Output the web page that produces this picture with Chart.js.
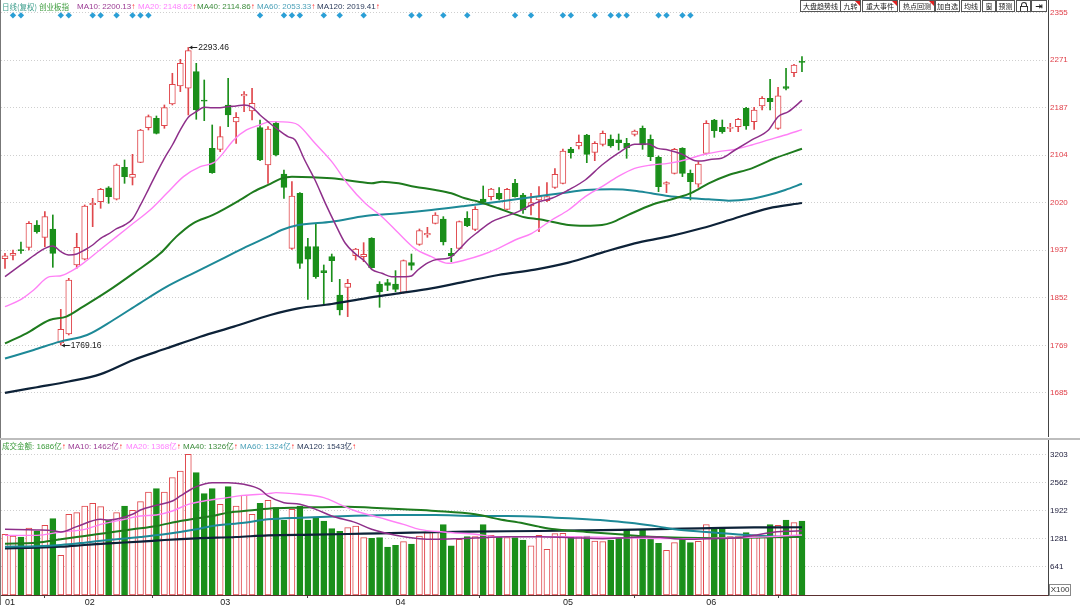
<!DOCTYPE html>
<html>
<head>
<meta charset="utf-8">
<script src="https://cdn.jsdelivr.net/npm/chart.js@4.4.1/dist/chart.umd.min.js"></script>
<style>
  body { margin: 0; background: #fff; }
  #wrap { position: relative; width: 1080px; height: 605px; overflow: hidden; background: #fff;
          font-family: "Liberation Sans", Arial, sans-serif; }
  #priceBox { position: absolute; left: 0; top: 0; width: 1080px; height: 437px; }
  #volBox { position: absolute; left: 0; top: 440px; width: 1080px; height: 165px; }
  .hd { position: absolute; white-space: nowrap; font-size: 8px; line-height: 10px; }
  .cn { font-family: "Noto Sans CJK SC", sans-serif; font-size: 7.5px; }
  .ar { color: #ff2a2a; }
  .btn { position: absolute; top: 0; height: 12px; border: 1px solid #555; box-sizing: border-box;
         font-family: "Noto Sans CJK SC", sans-serif; font-size: 7px; line-height: 10px; text-align: center;
         background: #fff; color: #222; overflow: hidden; white-space: nowrap; }
  .tri { position: absolute; right: 0; top: 0; width: 0; height: 0;
         border-top: 5px solid #e02020; border-left: 5px solid transparent; }
</style>
</head>
<body>
<div id="wrap">
  <div id="priceBox"><canvas id="price"></canvas></div>
  <div id="volBox"><canvas id="vol"></canvas></div>

  <div style="position:absolute;left:0;top:0;width:1px;height:605px;background:#777"></div>
  <div style="position:absolute;left:0;top:438px;width:1080px;height:2px;background:#bdbdbd"></div>

  <!-- price header -->
  <div class="hd cn" style="left:2px;top:2px;color:#3d9e8c">日线(复权)</div>
  <div class="hd cn" style="left:39px;top:2px;color:#3c9c3c">创业板指</div>
  <div class="hd" style="left:77px;top:2px;color:#9b3b94">MA10: 2200.13<span class="ar">↑</span></div>
  <div class="hd" style="left:138px;top:2px;color:#ff80ff">MA20: 2148.62<span class="ar">↑</span></div>
  <div class="hd" style="left:197px;top:2px;color:#3c8c3c">MA40: 2114.86<span class="ar">↑</span></div>
  <div class="hd" style="left:257px;top:2px;color:#4aa0b8">MA60: 2053.33<span class="ar">↑</span></div>
  <div class="hd" style="left:317px;top:2px;color:#2c3c5c">MA120: 2019.41<span class="ar">↑</span></div>

  <!-- volume header -->
  <div class="hd" style="left:2px;top:441px;color:#3c9c3c"><span class="cn">成交金额</span>: 1686<span class="cn">亿</span><span class="ar">↑</span></div>
  <div class="hd" style="left:68px;top:441px;color:#9b3b94">MA10: 1462<span class="cn">亿</span><span class="ar">↑</span></div>
  <div class="hd" style="left:126px;top:441px;color:#ff80ff">MA20: 1368<span class="cn">亿</span><span class="ar">↑</span></div>
  <div class="hd" style="left:183px;top:441px;color:#3c8c3c">MA40: 1326<span class="cn">亿</span><span class="ar">↑</span></div>
  <div class="hd" style="left:240px;top:441px;color:#4aa0b8">MA60: 1324<span class="cn">亿</span><span class="ar">↑</span></div>
  <div class="hd" style="left:297px;top:441px;color:#2c3c5c">MA120: 1543<span class="cn">亿</span><span class="ar">↑</span></div>

  <!-- toolbar -->
  <div class="btn" style="left:800px;width:41px">大盘趋势线</div>
  <div class="btn" style="left:840px;width:21px">九转<div class="tri"></div></div>
  <div class="btn" style="left:862px;width:36px">重大事件<div class="tri"></div></div>
  <div class="btn" style="left:899px;width:36px">热点回测<div class="tri"></div></div>
  <div class="btn" style="left:935px;width:25px">加自选</div>
  <div class="btn" style="left:961px;width:20px">均线</div>
  <div class="btn" style="left:982px;width:14px">窗</div>
  <div class="btn" style="left:996px;width:19px">预测</div>
  <div class="btn" style="left:1016px;width:15px">
    <div style="position:absolute;left:4px;top:1px;width:4px;height:3px;border:1px solid #333;border-bottom:none;border-radius:3px 3px 0 0"></div>
    <div style="position:absolute;left:3px;top:5px;width:6px;height:4px;border:1px solid #333"></div>
  </div>
  <div class="btn" style="left:1031px;width:16px;font-family:'DejaVu Sans';font-weight:bold;font-size:9px">⇥</div>

  <div style="position:absolute;left:1049px;top:584px;width:22px;height:12px;border:1px solid #888;box-sizing:border-box;font-size:8px;line-height:10px;text-align:center;color:#333">X100</div>
</div>

<script>
// candles, one per trading day
const opens = [1921.4,1927.3,1936.7,1941.4,1980.7,1959.0,1973.7,1773.0,1788.8,1910.3,
  1920.3,2016.6,2021.8,2046.0,2026.0,2082.3,2064.7,2091.1,2152.2,2168.6,
  2155.7,2193.9,2225.6,2221.5,2250.8,2200.9,2115.8,2114.0,2192.1,2162.2,
  2208.0,2181.5,2152.2,2086.4,2159.8,2070.5,1939.6,2036.5,1942.6,1942.6,
  1900.3,1925.0,1857.4,1870.9,1926.7,1924.9,1957.2,1876.8,1879.1,1876.8,
  1862.1,1914.4,1946.7,1963.1,1983.7,1991.3,1930.8,1939.6,1992.5,1973.1,
  2026.5,2030.6,2036.5,2008.3,2054.1,2033.5,2014.2,2024.7,2023.6,2047.1,
  2054.1,2114.6,2119.9,2139.3,2108.7,2122.8,2132.2,2130.5,2124.6,2140.4,
  2150.9,2131.6,2099.9,2052.4,2071.7,2115.7,2071.7,2052.4,2106.9,2165.7,
  2152.8,2151.0,2153.9,2186.2,2162.7,2190.3,2203.8,2151.0,2224.4,2249.0,
  2268.4];
const highs = [1930.8,1936.7,1950.8,1986.6,1988.4,2004.2,1998.4,1832.2,1886.8,1966.1,
  2016.0,2027.7,2045.3,2048.3,2088.2,2095.2,2105.2,2149.2,2174.5,2172.7,
  2192.1,2247.9,2272.5,2293.46,2265.5,2236.1,2156.9,2154.0,2239.1,2178.6,
  2215.6,2221.5,2165.7,2154.0,2162.7,2077.6,2057.0,2037.7,1957.2,1983.7,
  1910.3,1929.6,1885.0,1885.0,1939.6,1949.6,1958.4,1880.9,1885.0,1900.3,
  1919.1,1929.6,1973.7,1976.6,2002.4,1995.4,1939.6,1987.8,2004.2,2013.0,
  2049.4,2045.3,2046.5,2045.3,2061.1,2036.5,2036.5,2048.2,2055.3,2080.0,
  2114.6,2117.5,2139.3,2140.4,2127.5,2146.3,2139.3,2141.0,2133.4,2148.0,
  2155.1,2139.3,2102.3,2057.0,2115.7,2116.9,2077.6,2092.3,2164.5,2166.8,
  2165.7,2159.8,2168.6,2188.0,2188.0,2206.8,2237.3,2223.2,2256.7,2263.7,
  2277.2];
const lows = [1904.4,1919.1,1930.8,1936.7,1966.1,1942.6,1906.2,1769.16,1787.0,1904.4,
  1919.1,1977.8,2010.1,2018.9,2024.8,2054.1,2051.2,2090.5,2148.1,2141.0,
  2151.0,2192.1,2215.6,2174.5,2166.9,2164.5,2071.7,2109.9,2154.0,2124.6,
  2180.4,2165.7,2094.0,2054.1,2102.2,2027.7,1937.8,1904.4,1849.8,1886.8,
  1839.8,1880.9,1822.2,1819.3,1919.1,1916.1,1904.4,1835.7,1865.1,1863.3,
  1860.4,1901.5,1944.9,1959.0,1982.5,1945.5,1916.1,1938.4,1977.8,1970.7,
  2018.9,2024.8,2024.8,2007.1,2029.5,2001.3,1998.3,1969.0,2021.8,2045.3,
  2052.9,2098.2,2114.6,2090.5,2094.0,2119.9,2117.5,2112.8,2098.2,2137.5,
  2114.0,2094.0,2039.4,2037.7,2070.5,2065.9,2024.8,2047.1,2105.8,2135.1,
  2142.2,2145.1,2145.1,2149.2,2149.2,2183.3,2183.3,2149.2,2218.5,2242.0,
  2250.8];
const closes = [1926.2,1930.8,1935.5,1983.7,1969.0,1995.4,1930.8,1797.0,1883.9,1941.4,
  2014.2,2018.9,2043.6,2030.6,2086.4,2065.9,2070.0,2148.1,2171.5,2142.2,
  2187.4,2228.5,2265.5,2287.8,2183.3,2198.6,2072.9,2136.3,2174.5,2170.4,
  2210.9,2195.0,2095.2,2149.8,2104.0,2047.1,2031.8,1913.2,1920.3,1889.7,
  1896.8,1917.9,1831.0,1878.0,1938.4,1929.0,1905.6,1862.7,1874.4,1867.4,
  1917.9,1909.7,1970.7,1966.0,1998.3,1950.8,1926.1,1986.6,1979.5,2008.3,
  2020.6,2044.1,2026.5,2043.5,2030.6,2007.1,2020.0,2030.6,2030.6,2070.0,
  2111.0,2108.1,2126.3,2105.2,2124.6,2142.2,2119.9,2125.7,2117.0,2146.3,
  2121.6,2101.1,2048.2,2055.3,2114.0,2071.7,2057.0,2088.2,2159.8,2146.9,
  2145.1,2152.8,2166.8,2155.1,2183.3,2203.8,2198.0,2208.0,2221.4,2262.5,
  2267.2];
// turnover, 亿
const volumes = [1382,1344,1321,1526,1458,1587,1739,904,1838,1876,
  2027,2088,2012,1701,1876,2027,1929,2126,2346,2422,
  2346,2672,2824,3204,2786,2308,2422,2065,2468,2027,
  2278,1838,2088,2156,1989,1701,1951,2027,1708,1777,
  1686,1511,1450,1534,1572,1306,1291,1306,1094,1132,
  1215,1162,1344,1420,1435,1602,1117,1268,1329,1329,
  1602,1359,1329,1306,1306,1253,1117,1359,1041,1397,
  1405,1329,1329,1344,1230,1215,1253,1306,1496,1359,
  1496,1306,1177,1018,1192,1283,1192,1223,1602,1526,
  1534,1329,1329,1420,1329,1329,1602,1587,1708,1648,
  1686];

// moving averages: [day, value]
const ma10 = [[0,1889.8],[2,1910.3],[4,1930.8],[5,1939.6],[6,1943.7],[7,1933.8],[8,1928.0],[9,1929.7],[10,1936.7],
  [11,1945.5],[12,1957.3],[13,1964.9],[14,1974.3],[15,1980.7],[16,1991.3],[17,2016.0],[18,2043.6],[19,2071.7],
  [20,2098.2],[21,2121.6],[22,2148.1],[23,2170.4],[24,2180.4],[25,2188.0],[26,2187.4],[27,2187.4],[28,2189.2],
  [29,2190.3],[30,2192.1],[31,2188.0],[32,2174.5],[33,2162.7],[34.3,2148.0],[35.5,2136.3],[36.4,2130.4],
  [37.6,2095.2],[38.9,2060.0],[40.2,2018.9],[41.4,1983.7],[42.7,1948.5],[43.9,1930.8],[45.2,1916.1],[46,1902.6],
  [47.3,1895.6],[48.5,1889.7],[50.2,1889.7],[51,1890.9],[51.8,1901.5],[53.1,1914.4],[54.3,1920.3],[55.6,1922.0],
  [56.9,1936.7],[58.1,1954.3],[59.4,1969.0],[61.1,1986.6],[62.7,1995.4],[64.4,2004.2],[66,2015.9],[67,2021.8],
  [68.6,2027.7],[70.7,2042.4],[72.8,2060.0],[74.9,2086.4],[76.9,2106.9],[79,2122.8],[80.7,2123.4],[81.9,2115.7],
  [83.2,2112.8],[84.9,2105.8],[86.6,2094.0],[87.4,2093.5],[88.7,2096.4],[89.9,2098.2],[91.6,2112.8],[93.7,2130.5],
  [95.8,2148.1],[97,2171.5],[98.3,2180.4],[100,2200.1]];
const ma20 = [[0,1836.9],[1.9,1848.7],[3.6,1866.3],[5.6,1889.8],[6.9,1891.0],[8.2,1898.6],[9.8,1913.2],[11.9,1936.7],
  [14,1960.2],[16.1,1983.7],[18.2,2007.2],[20.3,2036.5],[22.4,2065.9],[24.5,2083.5],[26.2,2090.5],[27,2101.1],
  [28.7,2130.5],[30.3,2148.1],[32,2156.9],[33.3,2162.7],[36,2161.0],[36.8,2156.9],[38.9,2124.6],[41,2092.3],
  [43.1,2051.2],[45.2,2018.9],[47.3,1995.4],[49.4,1966.1],[51.4,1939.6],[53.5,1924.9],[55.6,1913.2],[57.7,1919.1],
  [59.8,1927.9],[61.9,1939.6],[64,1954.3],[66.1,1966.1],[68.6,1989.5],[70.7,2007.1],[72.8,2030.6],[74.9,2048.2],
  [76.9,2065.9],[79,2080.5],[81.1,2086.4],[83.2,2089.3],[85.3,2095.2],[87.4,2104.0],[89.5,2110.0],[91.6,2114.0],
  [93.7,2121.6],[95.8,2130.5],[97.9,2139.2],[100,2148.6]];
const ma40 = [[0,1772.3],[2.7,1790.0],[5.6,1813.4],[7.7,1819.3],[9.8,1836.9],[12.8,1863.3],[16.1,1895.6],[19.5,1930.8],
  [21.5,1960.2],[23.6,1983.7],[26.1,1998.4],[29.5,2024.8],[31.2,2039.5],[33.3,2053.0],[34.7,2062.9],[36,2065.9],
  [41,2062.9],[44.3,2057.0],[46,2054.1],[47.3,2057.0],[49.4,2054.1],[51.4,2048.2],[54,2042.4],[56,2036.5],
  [57.7,2027.7],[59.4,2021.8],[61.9,2010.1],[63.6,2001.3],[65.2,1994.2],[67,1990.7],[68.6,1986.6],[70.7,1980.7],
  [72.8,1979.5],[74.9,1980.7],[76.1,1984.8],[78.2,1998.4],[81.1,2016.0],[84.1,2027.7],[86.2,2037.7],[88.3,2054.1],
  [90.8,2068.8],[93.7,2080.5],[96.6,2098.2],[100,2114.9]];
const ma60 = [[0,1745.5],[3.6,1760.6],[6.9,1775.3],[10.3,1787.0],[13.6,1813.4],[16.9,1842.8],[20.3,1872.1],[23.6,1895.6],
  [27,1919.1],[30.3,1942.6],[33.3,1962.0],[34.7,1971.9],[36.8,1980.7],[41,1986.6],[45.2,1996.6],[49.4,2001.3],
  [53.5,2007.1],[57.7,2014.2],[61.9,2021.8],[66.5,2030.6],[69.8,2036.5],[72.8,2042.4],[76.1,2043.5],[79,2041.2],
  [81.1,2036.5],[83.2,2031.8],[85.3,2028.8],[88.3,2025.9],[90.8,2023.6],[93.3,2025.9],[95.8,2033.5],[97.9,2042.4],
  [100,2053.3]];
const ma120 = [[0,1685],[4,1695],[8,1705],[12,1718],[16.1,1743],[20.3,1763.5],[24.5,1784],[28.7,1801.7],[33.3,1822.2],
  [36.8,1833.9],[41,1841.6],[45.2,1851.6],[49.4,1860.4],[53.5,1869.2],[57.7,1880.9],[61.9,1892.7],[66.5,1902],
  [70.7,1914.4],[74.9,1932.0],[79,1948.4],[83.2,1960.2],[87.4,1974.9],[91.6,1992.5],[95.8,2010.1],[100,2019.4]];

const vma10 = [[0,1496],[4,1481],[6,1466],[7,1435],[9,1557],[12,1724],[13,1708],[16,1838],[17,1936],[19,2043],
  [21,2141],[22,2255],[23,2369],[24,2468],[26,2559],[28,2559],[30,2521],[32,2407],[33,2255],[35,2103],[37,2065],
  [39,1951],[41,1800],[44,1648],[46,1496],[49,1359],[52,1283],[54,1268],[57,1283],[60,1306],[63,1329],[67,1329],
  [71,1306],[75,1283],[78,1306],[81,1329],[84,1283],[86,1268],[88,1283],[92,1306],[94,1359],[96,1420],[98,1450],
  [100,1462]];
const vma20 = [[0,1359],[4,1359],[7,1435],[10,1496],[12,1610],[15,1724],[17,1799],[19,1822],[21,1913],[23,2065],
  [25,2141],[27,2194],[30,2270],[33,2308],[34,2331],[37,2293],[40,2217],[42,2065],[44,1913],[47,1762],[50,1610],
  [52,1496],[55,1435],[59,1382],[62,1329],[67,1329],[71,1329],[77,1306],[83,1283],[87,1283],[92,1306],[96,1329],
  [100,1368]];
const vma40 = [[0,1170],[4,1190],[7,1268],[10,1344],[13,1420],[16,1496],[19,1572],[22,1686],[26,1800],[28,1876],
  [31,1929],[33,1966],[37,1989],[43,2012],[46,1989],[50,1951],[54,1913],[59,1838],[62,1724],[65,1633],[67,1557],
  [69,1496],[73,1435],[77,1382],[81,1329],[85,1306],[90,1300],[93,1305],[96,1315],[100,1326]];
const vma60 = [[0,1101],[4,1110],[7,1139],[10,1192],[13,1253],[17,1321],[20,1382],[24,1496],[26,1572],[30,1648],
  [33,1724],[37,1762],[43,1800],[49,1822],[54,1822],[59,1800],[63,1800],[67,1784],[69,1762],[73,1724],[76,1686],
  [79,1633],[82,1557],[84,1496],[88,1435],[92,1380],[96,1340],[100,1324]];
const vma120 = [[0,1063],[4,1078],[7,1101],[10,1139],[13,1177],[17,1215],[20,1253],[24,1291],[29,1321],[33,1359],
  [39,1374],[45,1397],[51,1420],[58,1443],[67,1458],[73,1473],[79,1490],[85,1510],[90,1530],[94,1540],[100,1543]];

// days with a signal diamond on top
const signalDays = [1,2,7,8,11,12,14,16,17,18,32,35,36,37,40,42,45,51,52,55,58,64,66,70,71,74,76,77,78,82,83,85,86];
const signalLevel = 2350;

const monthStart = [0, 10, 27, 49, 70, 88];
const monthLabels = ['01', '02', '03', '04', '05', '06'];
const priceTicks = [1685, 1768.75, 1852.5, 1936.25, 2020, 2103.75, 2187.5, 2271.25, 2355];
const priceTickLabels = ['1685', '1769', '1852', '1937', '2020', '2104', '2187', '2271', '2355'];
const volTicks = [641, 1281, 1922, 2562, 3203];
const volTickLabels = ['641', '1281', '1922', '2562', '3203'];

const RED = '#e0474c';
const GREEN = '#1a8f1a';
const C10 = '#8e2f8a', C20 = '#ff80f6', C40 = '#1e7b1e', C60 = '#1d8997', C120 = '#0d2238';

Chart.defaults.font.family = '"Liberation Sans", Arial, sans-serif';
Chart.defaults.animation = false;

const days = opens.map((_, i) => i);
const isUp = days.map(i => closes[i] >= opens[i]);

// no label padding, so the plot fills the panel edge to edge
function noPad(s) {
  s.paddingTop = 0; s.paddingBottom = 0; s.paddingLeft = 0; s.paddingRight = 0;
}
const xRange = { min: -0.502, max: 130.87, offset: false };

function maLine(points, color, width) {
  return {
    type: 'line',
    data: points.map(([x, y]) => ({ x, y })),
    borderColor: color,
    borderWidth: width,
    pointRadius: 0,
    tension: 0.3,
    cubicInterpolationMode: 'monotone',
    order: 0
  };
}

function rightAxis(ticks, labels, min, max, color) {
  return {
    position: 'right',
    min, max,
    afterFit(s) { s.width = 32; noPad(s); },
    afterBuildTicks(s) { s.ticks = ticks.map(v => ({ value: v })); },
    ticks: { callback: (v, i) => labels[i], color, font: { size: 8 }, padding: 2 },
    grid: { color: '#cfcfcf', drawTicks: false },
    border: { display: true, color: '#444', width: 1, dash: [1, 2] }
  };
}

// hi / lo price labels
const extremes = {
  id: 'extremes',
  afterDatasetsDraw(chart) {
    const { ctx, scales: { x, y } } = chart;
    const hi = highs.indexOf(Math.max(...highs));
    const lo = lows.indexOf(Math.min(...lows));
    ctx.save();
    ctx.font = '8.5px "Liberation Sans", Arial';
    ctx.fillStyle = '#222';
    ctx.strokeStyle = '#222';
    ctx.lineWidth = 1;
    ctx.textBaseline = 'middle';
    [[hi, highs[hi]], [lo, lows[lo]]].forEach(([i, v]) => {
      const px = x.getPixelForValue(i) + 1;
      const py = Math.round(y.getPixelForValue(v)) + 0.5;
      ctx.beginPath(); ctx.moveTo(px, py); ctx.lineTo(px + 8, py); ctx.stroke();
      ctx.beginPath(); ctx.moveTo(px, py); ctx.lineTo(px + 3, py - 2); ctx.lineTo(px + 3, py + 2); ctx.closePath(); ctx.fill();
      ctx.fillText(v.toFixed(2), px + 9, py);
    });
    ctx.restore();
  }
};

new Chart(document.getElementById('price'), {
  data: {
    datasets: [
      maLine(ma10, C10, 1.5),
      maLine(ma20, C20, 1.4),
      maLine(ma40, C40, 2),
      maLine(ma60, C60, 2),
      maLine(ma120, C120, 2.2),
      {
        type: 'line',
        data: signalDays.map(i => ({ x: i, y: signalLevel })),
        showLine: false,
        pointStyle: 'rectRot',
        pointRadius: 3.2,
        pointBackgroundColor: '#2b9fd6',
        pointBorderWidth: 0,
        order: 0
      },
      {
        type: 'bar',
        data: days.map(i => ({ x: i, y: [opens[i], closes[i]] })),
        backgroundColor: days.map(i => isUp[i] ? '#ffffff' : GREEN),
        borderColor: days.map(i => isUp[i] ? RED : GREEN),
        borderWidth: 1,
        borderSkipped: false,
        barThickness: 6,
        minBarLength: 1,
        grouped: false,
        order: 1
      },
      {
        type: 'bar',
        data: days.map(i => ({ x: i, y: [lows[i], highs[i]] })),
        backgroundColor: days.map(i => isUp[i] ? RED : GREEN),
        barThickness: 1,
        grouped: false,
        order: 2
      }
    ]
  },
  options: {
    responsive: true,
    maintainAspectRatio: false,
    events: [],
    layout: { autoPadding: false, padding: { left: 1 } },
    plugins: { legend: { display: false }, tooltip: { enabled: false } },
    scales: {
      x: { type: 'linear', display: false, ...xRange },
      y: rightAxis(priceTicks, priceTickLabels, 1607.3, 2377.0, '#e0404a')
    }
  },
  plugins: [extremes]
});

new Chart(document.getElementById('vol'), {
  data: {
    datasets: [
      maLine(vma10, C10, 1.5),
      maLine(vma20, C20, 1.4),
      maLine(vma40, C40, 2),
      maLine(vma60, C60, 2),
      maLine(vma120, C120, 2.2),
      {
        type: 'bar',
        data: days.map(i => ({ x: i, y: volumes[i] })),
        backgroundColor: days.map(i => isUp[i] ? '#ffffff' : GREEN),
        borderColor: days.map(i => isUp[i] ? RED : GREEN),
        borderWidth: 1,
        borderSkipped: false,
        barThickness: 6,
        grouped: false,
        order: 1
      }
    ]
  },
  options: {
    responsive: true,
    maintainAspectRatio: false,
    events: [],
    layout: { autoPadding: false, padding: { left: 1 } },
    plugins: { legend: { display: false }, tooltip: { enabled: false } },
    scales: {
      x: {
        type: 'linear',
        ...xRange,
        afterFit(s) { s.height = 10; noPad(s); },
        afterBuildTicks(s) { s.ticks = monthStart.map(v => ({ value: v })); },
        ticks: { callback: (v, i) => monthLabels[i], align: 'start', autoSkip: false, maxRotation: 0,
                 color: '#222', font: { size: 9 }, padding: -1 },
        grid: { drawOnChartArea: false, drawTicks: true, tickLength: 3, color: '#444' },
        border: { display: true, color: '#5a3030', width: 1 }
      },
      y: rightAxis(volTicks, volTickLabels, 0, 3530, '#1c1c3a')
    }
  }
});
</script>
</body>
</html>
